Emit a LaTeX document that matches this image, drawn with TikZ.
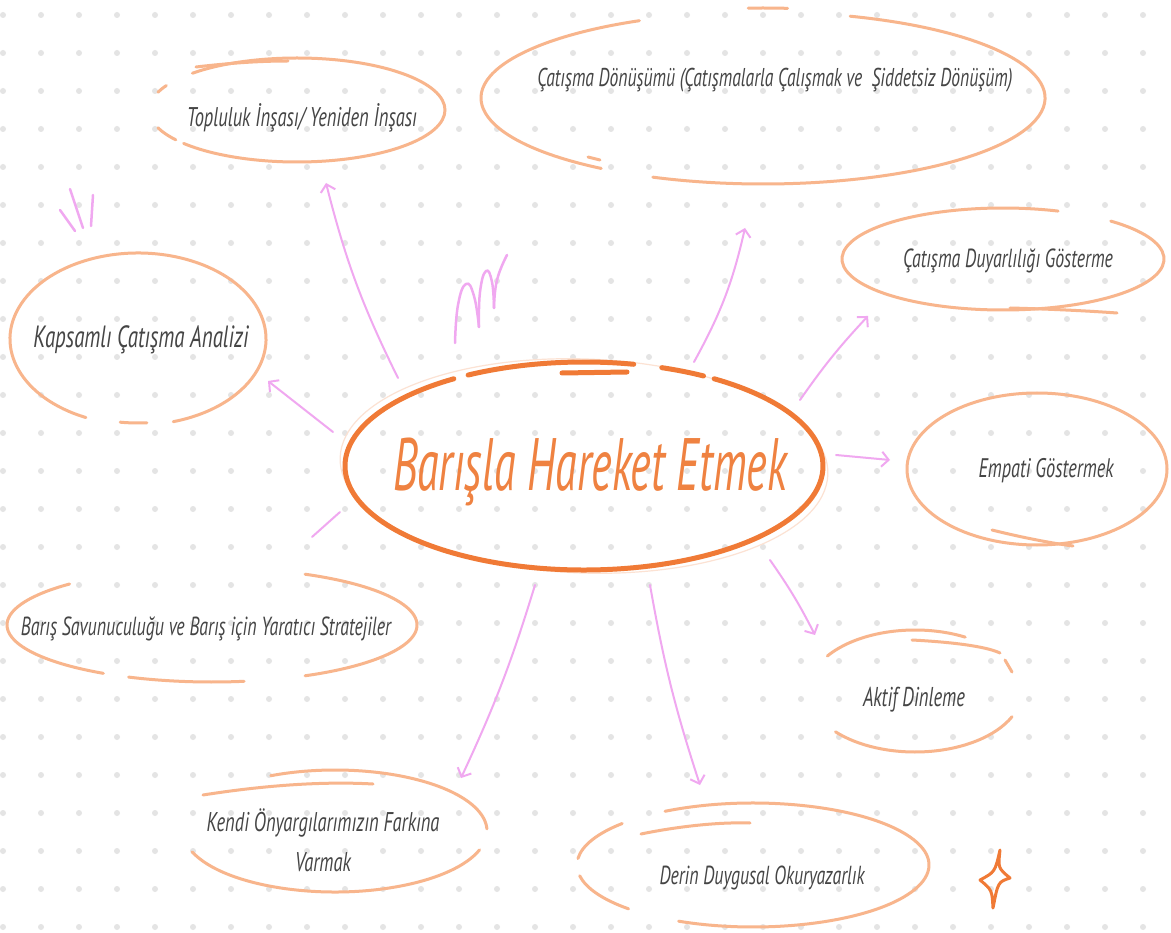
\documentclass[tikz,border=0pt]{standalone}
\usepackage{fontspec}
\usepackage{graphicx}
\usetikzlibrary{arrows.meta}
\newfontfamily\hand[FakeStretch=0.82]{PT Sans}
\definecolor{dotc}{HTML}{E4E4E4}
\definecolor{nodec}{HTML}{F8B58C}
\definecolor{mainc}{HTML}{F07A36}
\definecolor{titlec}{HTML}{EF8241}
\definecolor{arrc}{HTML}{F0A8F0}
\definecolor{txtc}{HTML}{454545}
\newcommand{\fitw}[2]{\scalebox{1}[1.2]{\resizebox{#1pt}{!}{#2}}}
\begin{document}
\begin{tikzpicture}[x=1pt,y=-1pt,
  ring/.style={draw=nodec,line width=3pt,line cap=round},
  mainring/.style={draw=mainc,line width=5pt,line cap=round},
  label/.style={text=txtc,font=\hand\itshape\fontsize{20}{24}\selectfont,inner sep=0pt,align=center},
  arr/.style={draw=arrc,line width=2pt,line cap=round,-{Straight Barb[length=7pt,width=15pt,line width=2pt]}},
  deco/.style={draw=arrc,line width=2.5pt,line cap=round,line join=round}]
\useasboundingbox (0,0) rectangle (1171,933);
\fill[white] (0,0) rectangle (1171,933);
% dot grid
\foreach \i in {0,...,30}{\foreach \j in {0,...,24}{\fill[dotc] (3+38*\i,15+38*\j) circle (3);}}

% ---------- central node ----------
\draw[mainc!22,line width=1.2pt,rotate around={-2:(584,466)}] (584,466) ellipse [x radius=244,y radius=107];
\draw[mainring] (584,466) ++(303:239 and 104) arc[start angle=303,end angle=597,x radius=239,y radius=104];
\draw[mainring] (584,466) ++(241:239 and 104) arc[start angle=241,end angle=282,x radius=239,y radius=104];
\draw[mainring] (584,466) ++(289:239 and 104) arc[start angle=289,end angle=300,x radius=239,y radius=104];
\draw[mainring] (562,373) -- (627,372);
\node[inner sep=0pt,text=titlec,font=\hand\itshape\fontsize{40}{48}\selectfont] (title) at (590,472) {\scalebox{1}[1.15]{\fitw{394}{Barışla Hareket Etmek}}};

% ---------- 1 Topluluk ----------
\draw[ring] (297,110) ++(225:148 and 52) arc[start angle=225,end angle=500,x radius=148,y radius=52];
\draw[ring] (297,110) ++(200:148 and 52) arc[start angle=200,end angle=208,x radius=148,y radius=52];
\draw[ring] (297,110) ++(145:148 and 52) arc[start angle=145,end angle=160,x radius=148,y radius=52];
\draw[ring] (196,67) .. controls (230,63) and (260,61) .. (288,61);
\node[label] (n1) at (302,118) {\fitw{230}{Topluluk İnşası/ Yeniden İnşası}};

% ---------- 2 Çatışma Dönüşümü ----------
\draw[ring] (763,98) ++(288:282 and 86) arc[start angle=288,end angle=473,x radius=282,y radius=86];
\draw[ring] (763,98) ++(125:282 and 86) arc[start angle=125,end angle=244,x radius=282,y radius=86];
\draw[ring] (763,98) ++(267:282 and 90) arc[start angle=267,end angle=275,x radius=282,y radius=90];
\draw[ring] (588,157) -- (600,160);
\node[label] (n2) at (775,80) {\fitw{475}{Çatışma Dönüşümü (Çatışmalarla Çalışmak ve\ \ Şiddetsiz Dönüşüm)}};

% ---------- 3 Duyarlılık ----------
\draw[ring] (1003,259) ++(312:161 and 51) arc[start angle=312,end angle=650,x radius=161,y radius=51];
\draw[ring] (1010,308) .. controls (1050,309) and (1090,311) .. (1117,313);
\node[label] (n3) at (1008,261) {\fitw{210}{Çatışma Duyarlılığı Gösterme}};

% ---------- 4 Empati ----------
\draw[ring] (1037,469) ellipse [x radius=130,y radius=76];
\draw[ring] (992,530) .. controls (1020,537) and (1050,543) .. (1073,546);
\node[label] (n4) at (1046,471) {\fitw{135}{Empati Göstermek}};

% ---------- 5 Aktif ----------
\draw[ring] (915,691) ++(215:107 and 61) arc[start angle=215,end angle=298,x radius=107,y radius=61];
\draw[ring] (912,640) .. controls (950,642) and (985,646) .. (1000,653);
\draw[ring] (1005,660) -- (1012,672);
\draw[ring] (915,691) ++(25:107 and 61) arc[start angle=25,end angle=138,x radius=107,y radius=61];
\node[label] (n5) at (914,700) {\fitw{102}{Aktif Dinleme}};

% ---------- 6 Derin ----------
\draw[ring] (753,865) ++(240:176 and 62) arc[start angle=240,end angle=475,x radius=176,y radius=62];
\draw[ring] (753,865) ++(135:176 and 62) arc[start angle=135,end angle=170,x radius=176,y radius=62];
\draw[ring] (753,865) ++(186:176 and 62) arc[start angle=186,end angle=222,x radius=176,y radius=62];
\draw[ring] (641,834) .. controls (680,826) and (720,822) .. (750,823);
\node[label] (n6) at (762,878) {\fitw{205}{Derin Duygusal Okuryazarlık}};

% ---------- 7 Kendi ----------
\draw[ring] (335,831) ++(245:152 and 61) arc[start angle=245,end angle=358,x radius=152,y radius=61];
\draw[ring] (335,831) ++(18:152 and 61) arc[start angle=18,end angle=160,x radius=152,y radius=61];
\draw[ring] (203,795) .. controls (260,786) and (320,781) .. (373,784);
\node[label] (n7) at (323,845) {\fitw{233}{\begin{tabular}{@{}c@{}}Kendi Önyargılarımızın Farkına\\[6pt]Varmak\end{tabular}}};

% ---------- 8 Barış Savunuculuğu ----------
\draw[ring] (212,625) ++(297:205 and 57) arc[start angle=297,end angle=423,x radius=205,y radius=57];
\draw[ring] (212,625) ++(81:205 and 57) arc[start angle=81,end angle=114,x radius=205,y radius=57];
\draw[ring] (212,625) ++(122:205 and 57) arc[start angle=122,end angle=226,x radius=205,y radius=57];
\node[label] (n8) at (206,629) {\fitw{370}{Barış Savunuculuğu ve Barış için Yaratıcı Stratejiler}};

% ---------- 9 Kapsamlı ----------
\draw[ring] (138,339) ++(114:128 and 86) arc[start angle=114,end angle=434,x radius=128,y radius=86];
\draw[ring] (138,339) ++(86:128 and 84) arc[start angle=86,end angle=98,x radius=128,y radius=84];
\node[label] (n9) at (141,340) {\fitw{215}{Kapsamlı Çatışma Analizi}};

% ---------- connectors ----------
\coordinate (s1) at (398,378); \coordinate (e1) at (326,183);
\coordinate (s2) at (333,432); \coordinate (e2) at (268,381);
\coordinate (s3) at (694,362); \coordinate (e3) at (745,228);
\coordinate (s4) at (800,400); \coordinate (e4) at (868,316);
\coordinate (s5) at (836,455); \coordinate (e5) at (890,460);
\coordinate (s6) at (770,560); \coordinate (e6) at (815,635);
\coordinate (s7) at (650,585); \coordinate (e7) at (700,785);
\coordinate (s8) at (535,585); \coordinate (e8) at (461,778);
\coordinate (s9) at (340,512); \coordinate (e9) at (312,537);
\draw[arr] (s1) to[bend left=6] (e1);
\draw[arr] (s2) -- (e2);
\draw[arr] (s3) to[bend right=8] (e3);
\draw[arr] (s4) to[bend left=4] (e4);
\draw[arr] (s5) -- (e5);
\draw[arr] (s6) to[bend left=4] (e6);
\draw[arr] (s7) to[bend right=4] (e7);
\draw[arr] (s8) to[bend left=4] (e8);
\draw[draw=arrc,line width=2pt,line cap=round] (s9) -- (e9);

% ---------- decorations ----------
\draw[deco] (60,210) -- (75,231);
\draw[deco] (70,189) -- (83,228);
\draw[deco] (93,195) -- (91,226);
\draw[deco] plot[smooth,tension=0.8] coordinates {(455,343) (458,305) (466,284) (474,296) (479,327)};
\draw[deco] plot[smooth,tension=0.8] coordinates {(479,327) (480,292) (486,271) (492,282) (494,308)};
\draw[deco] plot[smooth,tension=0.8] coordinates {(494,308) (497,280) (507,255)};
\draw[draw=mainc,line width=3pt,line join=round,line cap=round]
  (1000,850) .. controls (998,868) .. (1010,878) .. controls (998,882) .. (993,908)
  .. controls (992,890) .. (980,880) .. controls (995,872) .. (1000,850) -- cycle;
\end{tikzpicture}
\end{document}
